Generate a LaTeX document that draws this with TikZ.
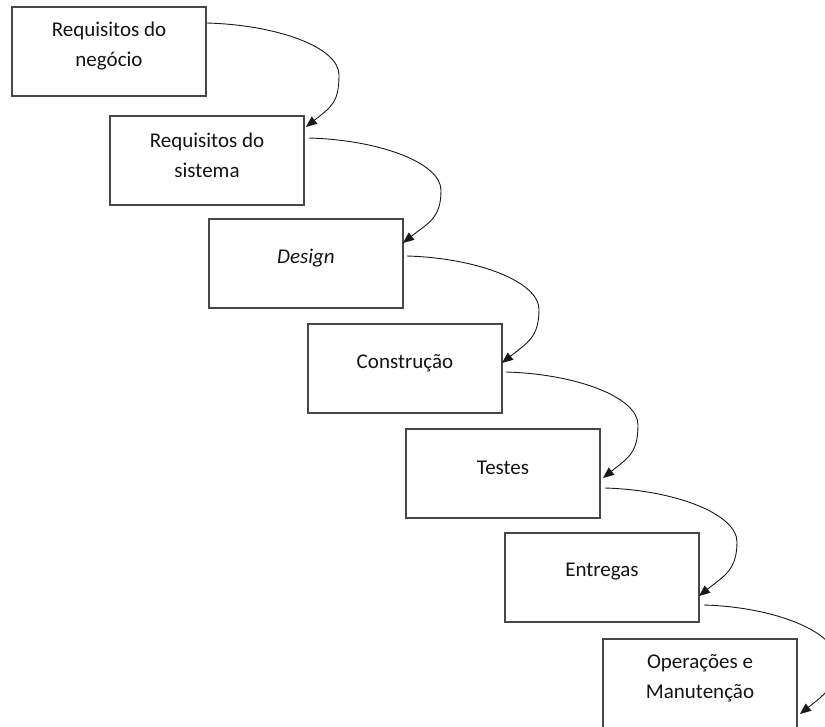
\documentclass[tikz,border=0pt]{standalone}
\usepackage{fontspec}
\setmainfont{Carlito}
\usetikzlibrary{arrows.meta,calc}
\begin{document}
\begin{tikzpicture}[x=1pt,y=1pt,
  stage/.style={draw=black!72,line width=1.5pt,minimum width=194pt,minimum height=89pt,
    inner sep=0pt,outer sep=0pt,anchor=north west},
  stagetext/.style={align=center,font=\fontsize{21pt}{30pt}\selectfont,text=black!92,inner sep=0pt},
  flow/.style={draw=black!90,line width=0.9pt,-{Triangle[length=11pt,width=9pt]}}]
\clip (0,0) rectangle (825,-726);

% stages of the waterfall
\node[stage] (b1) at (12,-7) {};
\node[stage] (b2) at (110,-116) {};
\node[stage] (b3) at (209,-219) {};
\node[stage] (b4) at (308,-324) {};
\node[stage] (b5) at (406,-429) {};
\node[stage] (b6) at (505,-533) {};
\node[stage] (b7) at (603,-639) {};

% stage titles
\node[stagetext] (t1) at ($(b1.north)+(0,-39)$) {Requisitos do\\negócio};
\node[stagetext] (t2) at ($(b2.north)+(0,-39)$) {Requisitos do\\sistema};
\node[stagetext] (t3) at ($(b3.north)+(0,-39)$) {\textit{Design}};
\node[stagetext] (t4) at ($(b4.north)+(0,-39)$) {Construção};
\node[stagetext] (t5) at ($(b5.north)+(0,-39)$) {Testes};
\node[stagetext] (t6) at ($(b6.north)+(0,-39)$) {Entregas};
\node[stagetext] (t7) at ($(b7.north)+(0,-39)$) {Operações e\\Manutenção};

% curved connectors from each stage to the next
\foreach \a/\b/\sx/\sy/\ex/\ey [count=\i] in
  {b1/b2/1/16/2/11, b2/b3/5/22/0/24, b3/b4/4/37/0/39,
   b4/b5/4/48/3/49, b5/b6/5/59/0/63, b6/b7/5/72/3/75} {
  \coordinate (s\i) at ($(\a.north east)+(\sx,-\sy)$);
  \coordinate (e\i) at ($(\b.north east)+(\ex,-\ey)$);
  \coordinate (m\i) at ($(s\i|-e\i)!0.5!(s\i)+(132,0)$);
  \draw[flow] (s\i) .. controls ($(s\i)+(70,-2)$) and ($(m\i)+(0,28)$) .. (m\i)
    .. controls ($(m\i)+(0,-28)$) and ($(e\i)+(25,20)$) .. (e\i);
}
\end{tikzpicture}
\end{document}
